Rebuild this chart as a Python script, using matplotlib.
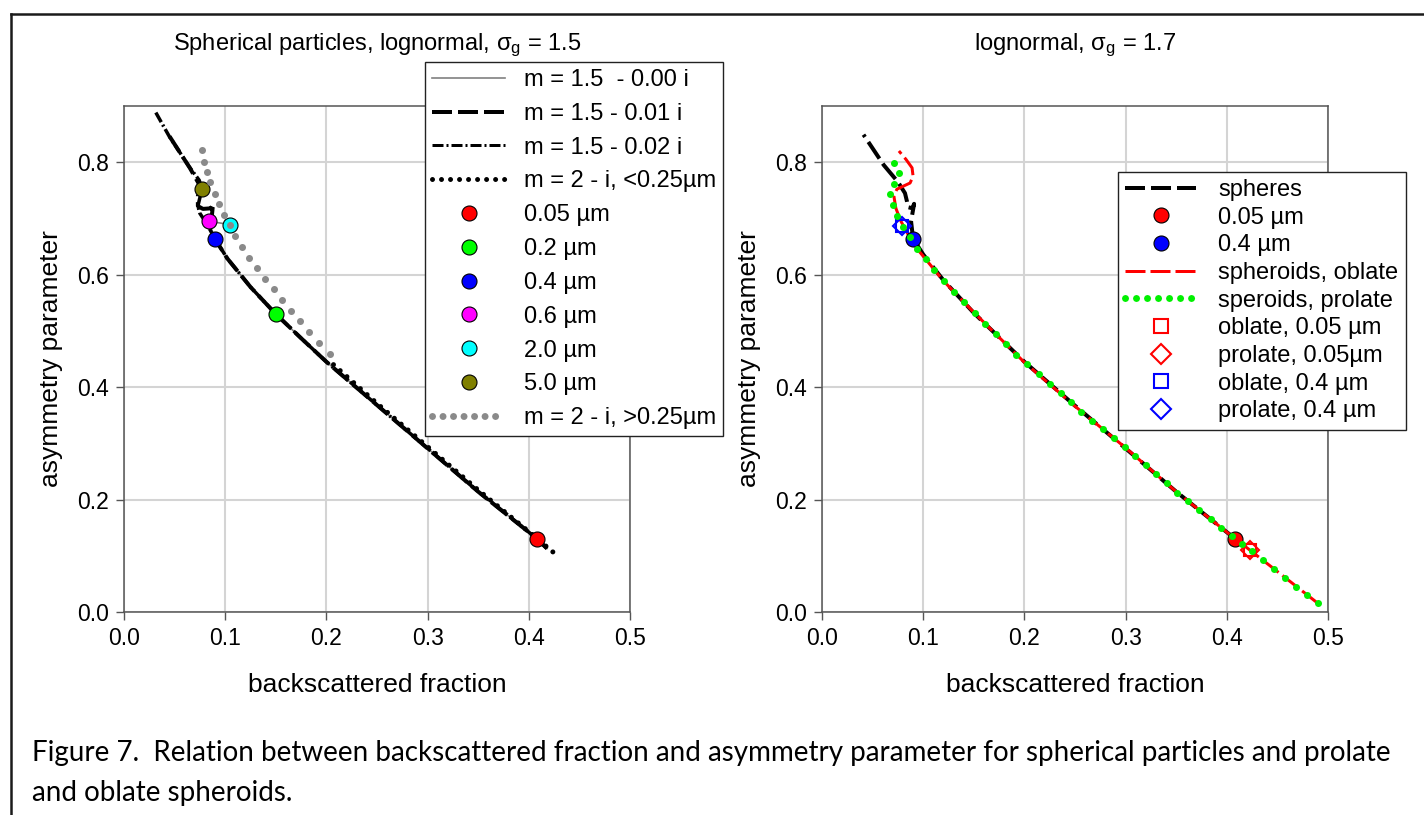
import matplotlib
matplotlib.use("Agg")
import matplotlib.pyplot as plt
from matplotlib.lines import Line2D
from matplotlib.ticker import FormatStrFormatter, MultipleLocator

plt.rcParams["font.family"] = ["Liberation Sans", "DejaVu Sans"]
plt.rcParams["mathtext.fontset"] = "custom"
plt.rcParams["mathtext.rm"] = "Liberation Sans"
plt.rcParams["mathtext.it"] = "Liberation Sans"
plt.rcParams["lines.scale_dashes"] = False

# ---------------- data: left panel (spheres, sigma_g = 1.5) ----------------
m150_x = [0.418, 0.408, 0.400, 0.350, 0.300, 0.250, 0.200, 0.175, 0.150, 0.125, 0.102, 0.0897, 0.084, 0.105]
m150_y = [0.113, 0.130, 0.142, 0.214, 0.291, 0.368, 0.445, 0.487, 0.530, 0.578, 0.629, 0.664, 0.695, 0.689]

m151_x = [0.418, 0.408, 0.400, 0.350, 0.300, 0.250, 0.200, 0.175, 0.150, 0.125, 0.102, 0.0897, 0.086,
          0.088, 0.086, 0.078, 0.073, 0.073, 0.077, 0.065, 0.055, 0.045]
m151_y = [0.113, 0.130, 0.142, 0.214, 0.291, 0.368, 0.445, 0.487, 0.530, 0.578, 0.629, 0.664, 0.690,
          0.726, 0.718, 0.717, 0.722, 0.740, 0.752, 0.790, 0.818, 0.846]

m152_x = [0.418, 0.408, 0.400, 0.350, 0.300, 0.250, 0.200, 0.175, 0.150, 0.125, 0.102, 0.0897, 0.082,
          0.075, 0.073, 0.077, 0.0743, 0.0644, 0.0546, 0.0447, 0.030]
m152_y = [0.113, 0.130, 0.142, 0.214, 0.291, 0.368, 0.445, 0.487, 0.530, 0.578, 0.629, 0.664, 0.690,
          0.709, 0.722, 0.752, 0.768, 0.792, 0.819, 0.846, 0.893]

m2_small_x = [0.207, 0.250, 0.300, 0.350, 0.400, 0.425]
m2_small_y = [0.440, 0.371, 0.294, 0.217, 0.143, 0.105]

m2_large_x = [0.0769, 0.0792, 0.0819, 0.0851, 0.0897, 0.0934, 0.099, 0.1045, 0.110, 0.117, 0.124,
              0.131, 0.139, 0.148, 0.156, 0.165, 0.174, 0.183, 0.193, 0.2035]
m2_large_y = [0.821, 0.801, 0.782, 0.764, 0.743, 0.725, 0.707, 0.688, 0.669, 0.649, 0.630,
              0.612, 0.593, 0.574, 0.555, 0.536, 0.517, 0.498, 0.479, 0.459]

size_labels = ["0.05 µm", "0.2 µm", "0.4 µm", "0.6 µm", "2.0 µm", "5.0 µm"]
size_colors = ["#ff0000", "#00ff00", "#0000ff", "#ff00ff", "#00ffff", "#808000"]
size_x = [0.408, 0.150, 0.0897, 0.084, 0.105, 0.077]
size_y = [0.130, 0.530, 0.664, 0.695, 0.689, 0.752]

# ---------------- data: right panel (sigma_g = 1.7) ----------------
sph_x = [0.410, 0.400, 0.350, 0.300, 0.250, 0.200, 0.150, 0.120, 0.100, 0.090, 0.088, 0.091,
         0.0895, 0.085, 0.084, 0.082, 0.075, 0.061, 0.041]
sph_y = [0.128, 0.142, 0.214, 0.291, 0.367, 0.445, 0.532, 0.590, 0.636, 0.664, 0.695, 0.726,
         0.718, 0.720, 0.730, 0.745, 0.765, 0.795, 0.849]

obl_x = [0.490, 0.450, 0.400, 0.350, 0.300, 0.250, 0.200, 0.150, 0.120, 0.094, 0.085, 0.078,
         0.073, 0.071, 0.074, 0.081, 0.087, 0.090, 0.089, 0.083, 0.076]
obl_y = [0.0155, 0.072, 0.142, 0.214, 0.292, 0.366, 0.444, 0.533, 0.589, 0.646, 0.672, 0.695,
         0.718, 0.740, 0.752, 0.758, 0.763, 0.775, 0.790, 0.805, 0.820]

pro_x = [0.0707, 0.0762, 0.0713, 0.0674, 0.0697, 0.074, 0.0796, 0.087, 0.094, 0.1025, 0.111, 0.1206,
         0.130, 0.140, 0.151, 0.161, 0.172, 0.182, 0.192, 0.2029, 0.214, 0.225, 0.236, 0.246, 0.2564,
         0.267, 0.278, 0.2885, 0.299, 0.3095, 0.320, 0.3305, 0.341, 0.351, 0.362, 0.373, 0.384,
         0.394, 0.405, 0.415, 0.425, 0.436, 0.447, 0.458, 0.468, 0.479, 0.4897]
pro_y = [0.798, 0.780, 0.762, 0.743, 0.724, 0.705, 0.685, 0.667, 0.646, 0.627, 0.608, 0.588,
         0.569, 0.551, 0.532, 0.5125, 0.495, 0.477, 0.458, 0.441, 0.423, 0.405, 0.389, 0.373, 0.356,
         0.340, 0.326, 0.310, 0.2935, 0.277, 0.261, 0.245, 0.2286, 0.212, 0.197, 0.181, 0.1655,
         0.149, 0.1345, 0.121, 0.108, 0.092, 0.076, 0.061, 0.045, 0.030, 0.0155]

r_sizes = ["0.05 µm", "0.4 µm"]
r_colors = ["#ff0000", "#0000ff"]
r_sph_x = [0.408, 0.090]
r_sph_y = [0.130, 0.664]
r_shape_x = [0.423, 0.0795]
r_shape_y = [0.111, 0.687]

# ---------------- figure ----------------
W, H = 1424, 815
PX = 72.0 / 100  # points per pixel
fig = plt.figure(figsize=(W / 100, H / 100), dpi=100)


def rect(x0, x1, y0, y1):
    return [x0 / W, 1 - y1 / H, (x1 - x0) / W, (y1 - y0) / H]


axL = fig.add_axes(rect(124, 630, 106, 612))
axR = fig.add_axes(rect(822, 1328, 106, 612))

for ax in (axL, axR):
    ax.set_xlim(0, 0.5)
    ax.set_ylim(0, 0.9)
    ax.xaxis.set_major_locator(MultipleLocator(0.1))
    ax.yaxis.set_major_locator(MultipleLocator(0.2))
    ax.xaxis.set_major_formatter(FormatStrFormatter("%.1f"))
    ax.yaxis.set_major_formatter(FormatStrFormatter("%.1f"))
    ax.grid(True, color="#d4d4d4", lw=1.5)
    ax.set_axisbelow(True)
    for s in ax.spines.values():
        s.set_color("#555555")
        s.set_linewidth(1.1)
    ax.tick_params(direction="out", length=6, width=1, color="#555555",
                   labelsize=16.5, pad=5)
    ax.set_xlabel("backscattered fraction", fontsize=19, labelpad=16)
    ax.set_ylabel("asymmetry parameter", fontsize=19, labelpad=10)

axL.set_title(r"Spherical particles, lognormal, $\mathrm{\sigma_g}$ = 1.5", fontsize=17, pad=40)
axR.set_title(r"lognormal, $\mathrm{\sigma_g}$ = 1.7", fontsize=17, pad=40)

# left panel curves
dash_long = (20 * PX, 6 * PX)
dash_dot = (11 * PX, 3 * PX, 2 * PX, 3 * PX)
axL.plot(m150_x, m150_y, color="#808080", lw=1.2, zorder=2)
axL.plot(m151_x, m151_y, color="k", lw=4 * PX, dashes=dash_long, zorder=3)
axL.plot(m152_x, m152_y, color="k", lw=3.5 * PX, dashes=dash_dot, zorder=3)
axL.plot(m2_small_x, m2_small_y, color="k", lw=5 * PX, dashes=(0.01, 9 * PX),
         dash_capstyle="round", zorder=3)
for x, y, c in zip(size_x, size_y, size_colors):
    axL.plot(x, y, "o", ms=15 * PX, mfc=c, mec="k", mew=0.8, zorder=4)
axL.plot(m2_large_x, m2_large_y, "o", ms=7 * PX, color="#8a8a8a", mec="none", zorder=5)

hL = [Line2D([], [], color="#808080", lw=1.2),
      Line2D([], [], color="k", lw=4 * PX, dashes=dash_long),
      Line2D([], [], color="k", lw=3 * PX, dashes=dash_dot),
      Line2D([], [], color="k", lw=5 * PX, dashes=(0.01, 9 * PX), dash_capstyle="round")]
hL += [Line2D([], [], ls="none", marker="o", ms=15 * PX, mfc=c, mec="k", mew=0.8) for c in size_colors]
hL.append(Line2D([], [], color="#8a8a8a", lw=7 * PX, dashes=(0.01, 10.5 * PX), dash_capstyle="round"))
labL = ["m = 1.5  - 0.00 i", "m = 1.5 - 0.01 i", "m = 1.5 - 0.02 i", "m = 2 - i, <0.25µm"] + size_labels + \
       ["m = 2 - i, >0.25µm"]
legL = axL.legend(hL, labL, loc="upper left", bbox_to_anchor=(425 / W, 1 - 62 / H),
                  bbox_transform=fig.transFigure, fontsize=17, frameon=True, fancybox=False,
                  framealpha=1, edgecolor="#222222", borderaxespad=0, borderpad=0.3,
                  handlelength=3.1, handletextpad=0.8, labelspacing=0.5, numpoints=1)
legL.get_frame().set_linewidth(1.0)
legL.set_zorder(10)

# right panel curves
axR.plot(sph_x, sph_y, color="k", lw=4 * PX, dashes=dash_long, zorder=2)
axR.plot(obl_x, obl_y, color="#ff0000", lw=3 * PX, dashes=(20 * PX, 5 * PX), zorder=3)
for x, y, c in zip(r_sph_x, r_sph_y, r_colors):
    axR.plot(x, y, "o", ms=15 * PX, mfc=c, mec="k", mew=0.8, zorder=4)
for x, y, c in zip(r_shape_x, r_shape_y, r_colors):
    axR.plot(x, y, "s", ms=9, mfc="none", mec=c, mew=1.5, zorder=4)
    axR.plot(x, y, "D", ms=9, mfc="none", mec=c, mew=1.5, zorder=4)
axR.plot(pro_x, pro_y, "o", ms=7 * PX, color="#00f000", mec="none", zorder=5)

hR = [Line2D([], [], color="k", lw=4 * PX, dashes=dash_long),
      Line2D([], [], ls="none", marker="o", ms=15 * PX, mfc="#ff0000", mec="k", mew=0.8),
      Line2D([], [], ls="none", marker="o", ms=15 * PX, mfc="#0000ff", mec="k", mew=0.8),
      Line2D([], [], color="#ff0000", lw=3 * PX, dashes=(20 * PX, 5 * PX)),
      Line2D([], [], color="#00f000", lw=7 * PX, dashes=(0.01, 11 * PX), dash_capstyle="round"),
      Line2D([], [], ls="none", marker="s", ms=10.5, mfc="none", mec="#ff0000", mew=1.5),
      Line2D([], [], ls="none", marker="D", ms=10.5, mfc="none", mec="#ff0000", mew=1.5),
      Line2D([], [], ls="none", marker="s", ms=10.5, mfc="none", mec="#0000ff", mew=1.5),
      Line2D([], [], ls="none", marker="D", ms=10.5, mfc="none", mec="#0000ff", mew=1.5)]
labR = ["spheres", "0.05 µm", "0.4 µm", "spheroids, oblate", "speroids, prolate",
        "oblate, 0.05 µm", "prolate, 0.05µm", "oblate, 0.4 µm", "prolate, 0.4 µm"]
legR = axR.legend(hR, labR, loc="upper left", bbox_to_anchor=(1118 / W, 1 - 172 / H),
                  bbox_transform=fig.transFigure, fontsize=17, frameon=True, fancybox=False,
                  framealpha=1, edgecolor="#222222", borderaxespad=0, borderpad=0.3,
                  handlelength=3.0, handletextpad=0.95, labelspacing=0.24, numpoints=1)
legR.get_frame().set_linewidth(1.0)
legR.set_zorder(10)

# page frame and caption
fig.add_artist(Line2D([11 / W, 1], [1 - 13.5 / H, 1 - 13.5 / H], transform=fig.transFigure,
                      color="#1a1a1a", lw=1.8))
fig.add_artist(Line2D([11 / W, 11 / W], [1 - 13.5 / H, 0], transform=fig.transFigure,
                      color="#1a1a1a", lw=1.8))
fig.text(32 / W, 1 - 761.5 / H,
         "Figure 7.  Relation between backscattered fraction and asymmetry parameter for "
         "spherical particles and prolate",
         fontfamily=["Lato", "DejaVu Sans"], fontsize=20, va="baseline", ha="left")
fig.text(32 / W, 1 - 801.5 / H, "and oblate spheroids.",
         fontfamily=["Lato", "DejaVu Sans"], fontsize=20, va="baseline", ha="left")

fig.savefig("out.png", dpi=100)
